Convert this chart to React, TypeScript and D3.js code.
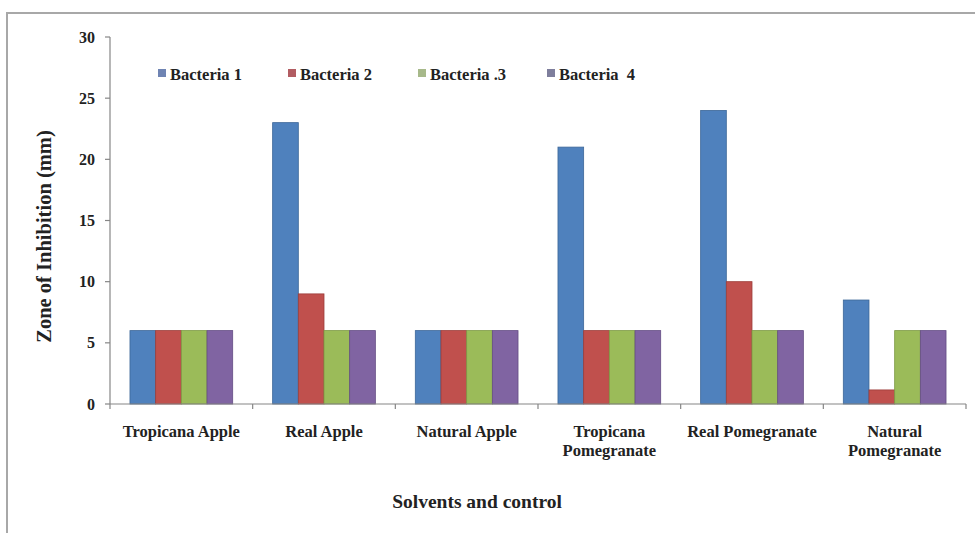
import React from "react";
import * as d3 from "d3";

const categories: string[][] = [
  ["Tropicana Apple"],
  ["Real Apple"],
  ["Natural Apple"],
  ["Tropicana", "Pomegranate"],
  ["Real Pomegranate"],
  ["Natural", "Pomegranate"],
];
const seriesNames = ["Bacteria 1", "Bacteria 2", "Bacteria .3", "Bacteria  4"];
const bacteria1 = [6, 23, 6, 21, 24, 8.5];
const bacteria2 = [6, 9, 6, 6, 10, 1.15];
const bacteria3 = [6, 6, 6, 6, 6, 6];
const bacteria4 = [6, 6, 6, 6, 6, 6];
const yTicks = [0, 5, 10, 15, 20, 25, 30];
const colors = ["#4F81BD", "#C0504D", "#9BBB59", "#8064A2"];
const strokes = ["#3C6798", "#9C3D3A", "#7D9A44", "#644D84"];
const legendColors = ["#6F84B3", "#B25C62", "#A7B98A", "#7E7E9C"];

const W = 975;
const H = 535;
const left = 110;
const right = 966;
const top = 37;
const bottom = 404;
const font = "'Liberation Serif', 'Times New Roman', serif";

export default function App() {
  const series = [bacteria1, bacteria2, bacteria3, bacteria4];
  const idx = categories.map((_, i) => String(i));
  const x0 = d3.scaleBand<string>().domain(idx).range([left, right]).paddingInner(0.28).paddingOuter(0.14);
  const x1 = d3.scaleBand<number>().domain([0, 1, 2, 3]).range([0, x0.bandwidth()]);
  const y = d3.scaleLinear().domain([0, 30]).range([bottom, top]);
  const step = (right - left) / categories.length;
  const legendX = [158, 288, 418, 547];

  return (
    <svg width={W} height={H} style={{ position: "absolute", left: 0, top: 0, background: "#fff" }}>
      <rect x={0} y={0} width={W} height={H} fill="#fff" />
      {/* outer frame */}
      <line x1={6} y1={13} x2={W} y2={13} stroke="#A8A8A8" strokeWidth={2} />
      <line x1={7} y1={13} x2={7} y2={533} stroke="#A8A8A8" strokeWidth={2} />

      {/* bars */}
      {series.map((vals, s) =>
        vals.map((v, i) => (
          <rect
            key={`${s}-${i}`}
            x={(x0(String(i)) as number) + (x1(s) as number)}
            y={y(v)}
            width={x1.bandwidth()}
            height={bottom - y(v)}
            fill={colors[s]}
            stroke={strokes[s]}
            strokeWidth={0.8}
          />
        ))
      )}

      {/* y axis */}
      <line x1={left} y1={top} x2={left} y2={bottom} stroke="#868686" strokeWidth={1.2} />
      {yTicks.map((t) => (
        <g key={t}>
          <line x1={left - 5} y1={y(t)} x2={left} y2={y(t)} stroke="#868686" strokeWidth={1.2} />
          <text x={left - 15} y={y(t)} dy="0.35em" textAnchor="end" fontFamily={font} fontWeight="bold" fontSize={16} fill="#222">
            {t}
          </text>
        </g>
      ))}

      {/* x axis */}
      <line x1={left} y1={bottom} x2={right} y2={bottom} stroke="#868686" strokeWidth={1.2} />
      {d3.range(categories.length + 1).map((i) => (
        <line key={i} x1={left + i * step} y1={bottom} x2={left + i * step} y2={bottom + 5} stroke="#868686" strokeWidth={1.2} />
      ))}
      {categories.map((lines, i) => (
        <text key={i} x={left + (i + 0.5) * step} y={437} textAnchor="middle" fontFamily={font} fontWeight="bold" fontSize={16.5} fill="#222">
          {lines.map((l, j) => (
            <tspan key={j} x={left + (i + 0.5) * step} dy={j === 0 ? 0 : 19}>
              {l}
            </tspan>
          ))}
        </text>
      ))}

      {/* axis titles */}
      <text x={477} y={508} textAnchor="middle" fontFamily={font} fontWeight="bold" fontSize={19.5} fill="#222">
        Solvents and control
      </text>
      <text
        transform={`translate(51,${(top + bottom) / 2 + 16}) rotate(-90)`}
        textAnchor="middle"
        fontFamily={font}
        fontWeight="bold"
        fontSize={20.5}
        fill="#222"
      >
        Zone of Inhibition (mm)
      </text>

      {/* legend */}
      {seriesNames.map((n, s) => (
        <g key={n}>
          <rect x={legendX[s]} y={69} width={8} height={8} fill={legendColors[s]} />
          <text x={legendX[s] + 12} y={80} fontFamily={font} fontWeight="bold" fontSize={16.5} fill="#222" style={{ whiteSpace: "pre" }}>
            {n}
          </text>
        </g>
      ))}
    </svg>
  );
}
